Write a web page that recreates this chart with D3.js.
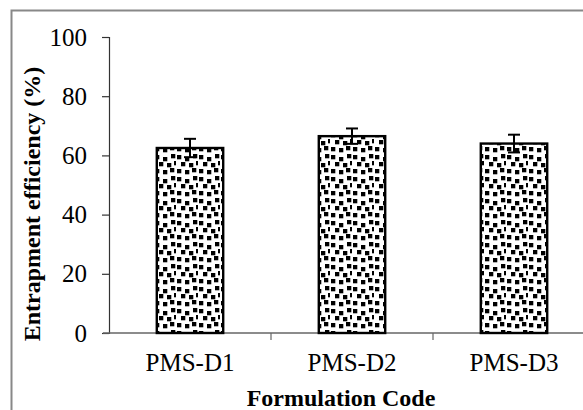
<!DOCTYPE html>
<html>
<head>
<meta charset="utf-8">
<script src="https://cdn.jsdelivr.net/npm/d3@7"></script>
<style>
  body { margin: 0; background: #fff; }
  svg { display: block; font-family: "Liberation Serif", "Times New Roman", serif; }
</style>
</head>
<body>
<div id="chart"></div>
<script>
var categories = ["PMS-D1", "PMS-D2", "PMS-D3"];
var values = [62.5, 66.5, 64.0];
var errors = [3.1, 2.6, 3.0];
var yTicks = [0, 20, 40, 60, 80, 100];

var width = 583, height = 410;

var svg = d3.select("#chart")
  .append("svg")
    .attr("width", width)
    .attr("height", height);

// confetti-like fill
var pat = svg.append("defs").append("pattern")
  .attr("id", "dots")
  .attr("patternUnits", "userSpaceOnUse")
  .attr("width", 22)
  .attr("height", 22);
pat.append("rect").attr("width", 22).attr("height", 22).attr("fill", "#fff");
[[1,1],[9,3],[17,0],[5,8],[13,9],[20,7],[1,15],[9,16],[16,14]].forEach(function(p) {
  pat.append("rect")
    .attr("x", p[0]).attr("y", p[1])
    .attr("width", 4.3).attr("height", 4.3)
    .attr("fill", "#000");
});

// outer frame (only top/left visible)
svg.append("path")
  .attr("d", "M11.5,410 V10.5 H583")
  .attr("fill", "none")
  .attr("stroke", "#888")
  .attr("stroke-width", 2);

var x = d3.scaleBand()
  .domain(categories)
  .range([109, 595])
  .paddingInner(0.59)
  .paddingOuter(0.295);

var y = d3.scaleLinear()
  .domain([0, 100])
  .range([333, 37]);

// y axis
var gy = svg.append("g")
  .attr("transform", "translate(109,0)")
  .call(d3.axisLeft(y).tickValues(yTicks).tickSize(7).tickPadding(15));
gy.select(".domain").attr("stroke", "#333").attr("stroke-width", 1.2);
gy.selectAll(".tick line").attr("stroke", "#333").attr("stroke-width", 1.2);
gy.selectAll("text")
  .attr("font-size", 25)
  .attr("font-family", "Liberation Serif")
  .attr("fill", "#000");

// x axis, ticks at band boundaries
var step = x.step();
var bounds = [0, 1, 2, 3].map(function(i) { return 109 + i * step; });
var gx = svg.append("g").attr("transform", "translate(0,333)");
gx.append("line")
  .attr("x1", 103).attr("x2", 595)
  .attr("stroke", "#666").attr("stroke-width", 1.5);
gx.selectAll("line.tk")
  .data(bounds.slice(1))
  .join("line")
    .attr("class", "tk")
    .attr("x1", d => d).attr("x2", d => d)
    .attr("y1", 0).attr("y2", 7)
    .attr("stroke", "#666").attr("stroke-width", 1.2);
gx.selectAll("text")
  .data(categories)
  .join("text")
    .attr("x", d => x(d) + x.bandwidth() / 2)
    .attr("y", 38)
    .attr("text-anchor", "middle")
    .attr("font-size", 25)
    .text(d => d);

// bars
svg.selectAll("rect.bar")
  .data(categories)
  .join("rect")
    .attr("class", "bar")
    .attr("x", d => x(d))
    .attr("y", (d, i) => y(values[i]))
    .attr("width", x.bandwidth())
    .attr("height", (d, i) => y(0) - y(values[i]))
    .attr("fill", "url(#dots)")
    .attr("stroke", "#000")
    .attr("stroke-width", 2.4);

// error bars
var eb = svg.selectAll("g.err")
  .data(categories)
  .join("g")
    .attr("class", "err")
    .attr("transform", d => "translate(" + (x(d) + x.bandwidth() / 2) + ",0)");
eb.append("line")
  .attr("y1", (d, i) => y(values[i] + errors[i]))
  .attr("y2", (d, i) => y(values[i] - errors[i]))
  .attr("stroke", "#000").attr("stroke-width", 2);
eb.append("line")
  .attr("x1", -6).attr("x2", 6)
  .attr("y1", (d, i) => y(values[i] + errors[i]))
  .attr("y2", (d, i) => y(values[i] + errors[i]))
  .attr("stroke", "#000").attr("stroke-width", 2);
eb.append("line")
  .attr("x1", -6).attr("x2", 6)
  .attr("y1", (d, i) => y(values[i] - errors[i]))
  .attr("y2", (d, i) => y(values[i] - errors[i]))
  .attr("stroke", "#000").attr("stroke-width", 2);

// axis titles
svg.append("text")
  .attr("x", 341)
  .attr("y", 406)
  .attr("text-anchor", "middle")
  .attr("font-size", 24)
  .attr("font-weight", "bold")
  .text("Formulation Code");

svg.append("text")
  .attr("transform", "translate(40,204) rotate(-90)")
  .attr("text-anchor", "middle")
  .attr("font-size", 24)
  .attr("font-weight", "bold")
  .text("Entrapment efficiency (%)");
</script>
</body>
</html>
